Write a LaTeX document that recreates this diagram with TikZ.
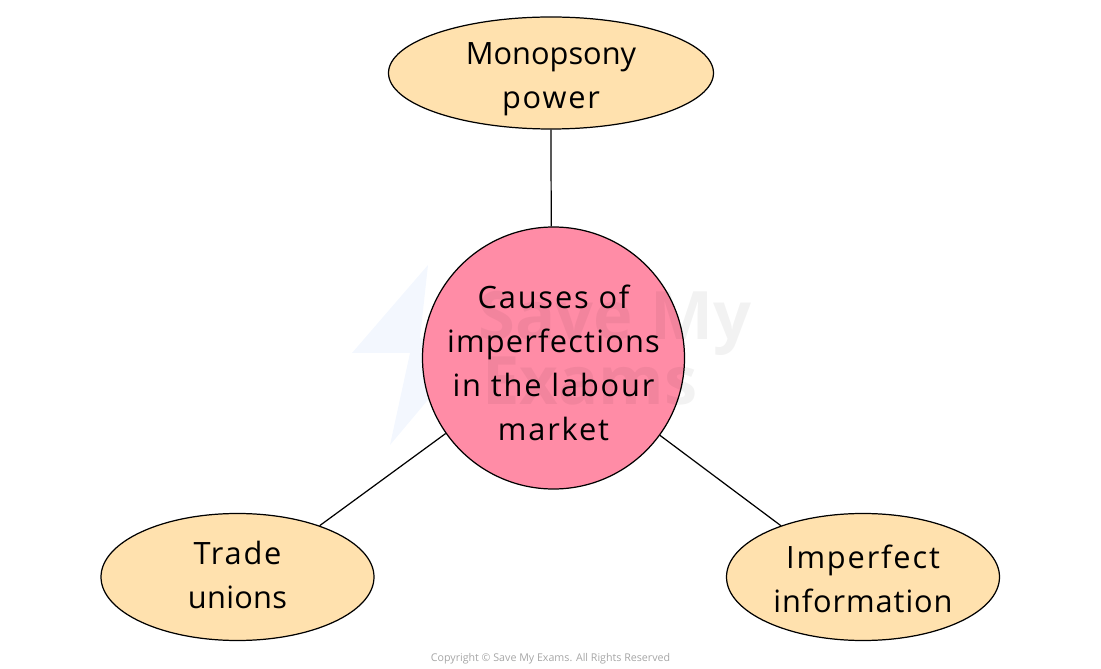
\documentclass[tikz,border=0pt]{standalone}
\usepackage{fontspec}
\setmainfont[LetterSpace=6]{Open Sans}
\newfontfamily\markfont{Open Sans}
\usetikzlibrary{shapes.geometric}

\definecolor{causepink}{HTML}{FF8CA6}
\definecolor{sandfill}{HTML}{FFE1AE}
\definecolor{boltblue}{HTML}{F3F7FE}

\newcommand{\spaced}[2]{{\addfontfeature{LetterSpace=#1}#2}}

\tikzset{
  causebox/.style={ellipse,draw=black,line width=0.7pt,fill=sandfill,inner sep=-12pt,align=center,font=\fontsize{17.5}{25}\selectfont},
  centrebox/.style={circle,draw=black,line width=0.7pt,fill=causepink,inner sep=-30pt,minimum size=5.24cm,align=center,font=\fontsize{17.5}{25}\selectfont},
  markbox/.style={text=black,opacity=0.05,font=\markfont\bfseries\fontsize{38}{38}\selectfont}
}

\begin{document}
\begin{tikzpicture}
  \useasboundingbox (0,0) rectangle (22.02,13.36);
  % faint bolt behind the circle
  \fill [boltblue] (8.56,8.06) -- (7.04,6.30) -- (8.20,6.30) -- (7.80,4.46) -- (9.60,6.60) -- (8.40,6.60) -- cycle;
  \node [centrebox] (CA) at (11.07,6.2) {\rule{0pt}{18.8pt}Causes of\\\spaced{4}{imperfections}\\in the labour\\market};
  \node [causebox,minimum width=6.5cm,minimum height=2.24cm] (MP) at (11.02,11.9) {\rule{0pt}{20pt}\spaced{0}{Monopsony}\\power};
  \node [causebox,minimum width=5.46cm,minimum height=2.54cm] (TU) at (4.75,1.82) {Trade\\\spaced{1}{unions}\rule[-2.3pt]{0pt}{2.3pt}};
  \node [causebox,minimum width=5.46cm,minimum height=2.54cm] (IM) at (17.26,1.82) {\rule{0pt}{16pt}Imperfect\\\spaced{3}{information}};
  \draw [line width=0.7pt] (MP.south) -- (CA.91);
  \draw [line width=0.7pt] (CA.215) -- (TU.32);
  \draw [line width=0.7pt] (CA.-36) -- (IM.148);
  \node [markbox] (SM) at (12.3,6.9) {Save My};
  \node [markbox] (EX) at (11.8,5.75) {Exams};
  \node [text=black!35,font=\markfont\fontsize{6.07}{8}\selectfont] (CR) at (11.01,0.19) {Copyright © Save My Exams. All Rights Reserved};
\end{tikzpicture}
\end{document}
